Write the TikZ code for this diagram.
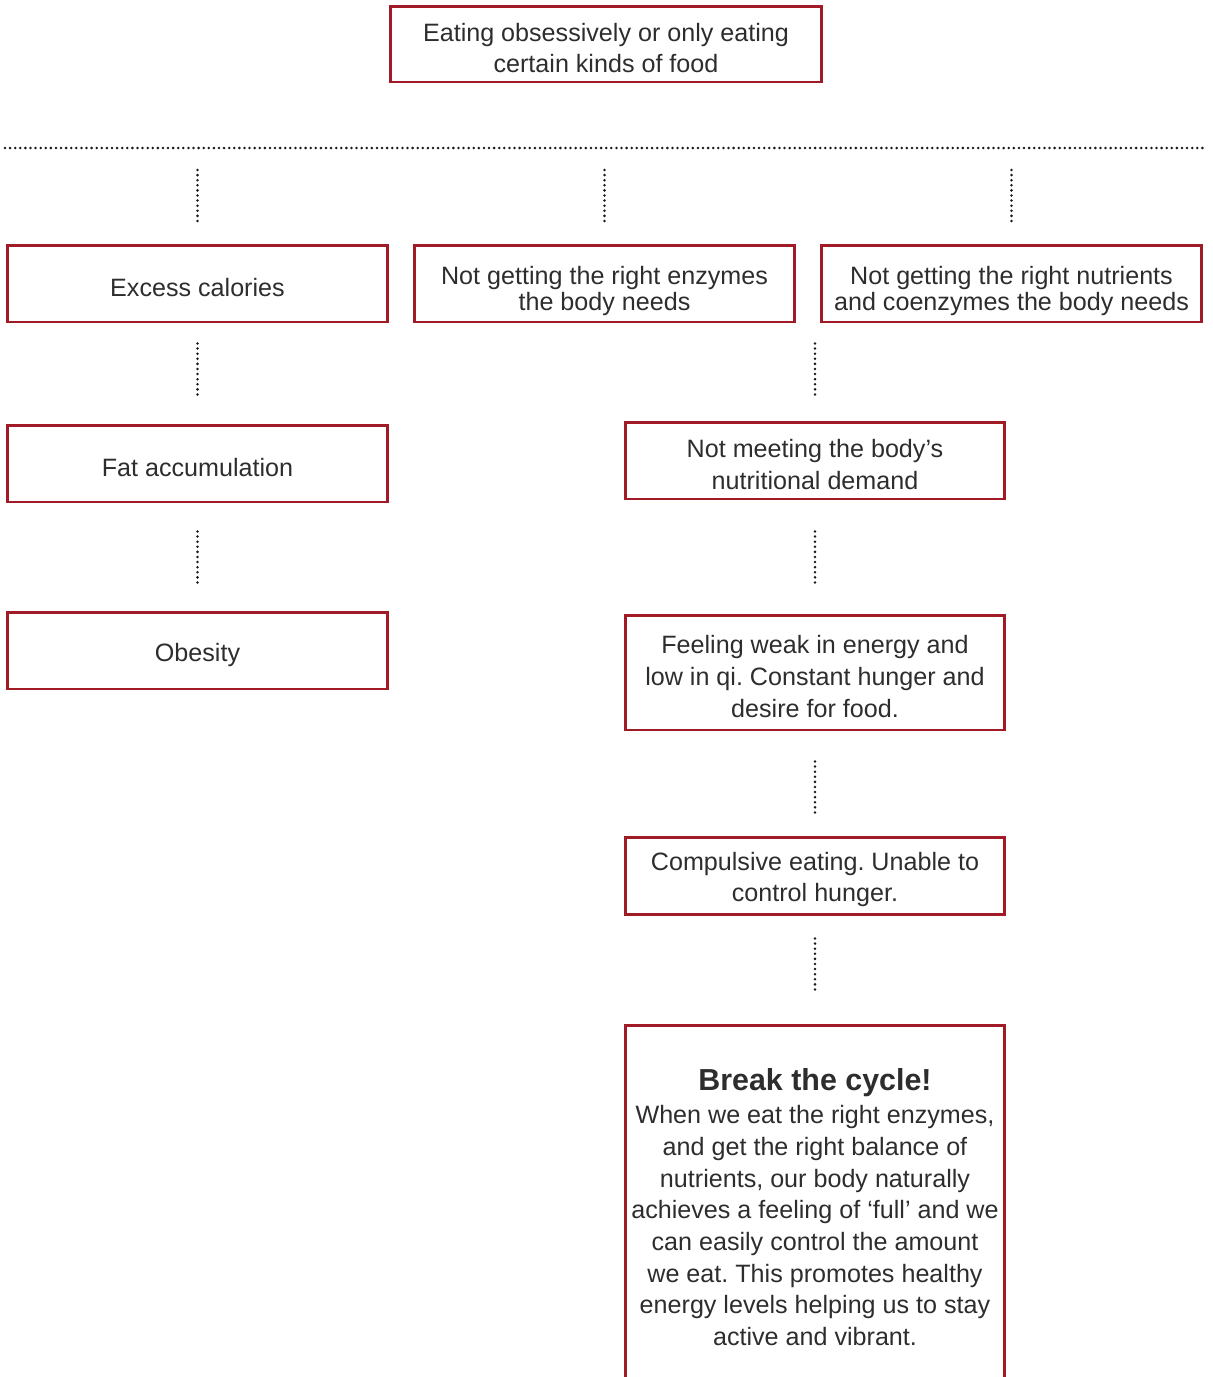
\documentclass[tikz,border=0pt]{standalone}
\usepackage{fontspec}
\setmainfont{Liberation Sans}
\frenchspacing
\definecolor{boxred}{RGB}{160,27,38}
\definecolor{txtgray}{RGB}{45,45,45}
\newcommand{\boxstrut}[1]{\rule{0pt}{#1}}

\begin{document}
\begin{tikzpicture}[x=0.02cm, y=-0.02cm,
        box/.style={draw=boxred, line width=1.7pt, text=txtgray, align=center, inner sep=0pt,
            minimum width=7.6cm, minimum height=1.54cm, font=\fontsize{14.3}{18}\selectfont},
        tight/.style={font=\fontsize{14.3}{14.7}\selectfont},
        link/.style={draw=black!90, line width=1.6pt, line cap=round, dash pattern=on 0pt off 2.9pt}]
            \useasboundingbox (0,0) rectangle (1213,1377);
            \clip (0,0) rectangle (1213,1377);

            \node[box, minimum width=8.64cm, minimum height=1.52cm] (eat) at (606,44) {\boxstrut{15pt}Eating obsessively or only eating\\certain kinds of food};
            \coordinate (busL) at (5,148);
            \coordinate (busR) at (1207,148);
            \draw[link] (busL) -- (busR);

            % three causes
            \node[box] (cal) at (197.5,283.5) {\boxstrut{15pt}Excess calories};
            \node[box, tight] (enz) at (604.5,283.5) {\boxstrut{18.5pt}Not getting the right enzymes\\the body needs};
            \node[box, tight] (nutr) at (1011.5,283.5) {\boxstrut{18.5pt}Not getting the right nutrients\\and coenzymes the body needs};
            \draw[link, shorten <=0.44cm, shorten >=0.38cm] (cal.north |- busL) -- (cal.north);
            \draw[link, shorten <=0.44cm, shorten >=0.38cm] (enz.north |- busL) -- (enz.north);
            \draw[link, shorten <=0.44cm, shorten >=0.38cm] (nutr.north |- busL) -- (nutr.north);

            % left column
            \node[box] (fat) at (197.5,463.5) {\boxstrut{15pt}Fat accumulation};
            \node[box] (obe) at (197.5,650.5) {\boxstrut{16pt}Obesity};
            \draw[link, shorten <=0.4cm, shorten >=0.54cm] (cal.south) -- (fat.north);
            \draw[link, shorten <=0.56cm, shorten >=0.54cm] (fat.south) -- (obe.north);

            % right column
            \node[box] (meet) at (815,460.5) {\boxstrut{15pt}Not meeting the body’s\\nutritional demand};
            \node[box, minimum height=2.3cm] (weak) at (815,672.5) {\boxstrut{15pt}Feeling weak in energy and\\low in qi. Constant hunger and\\desire for food.};
            \node[box] (comp) at (815,875.5) {\boxstrut{15pt}Compulsive eating. Unable to\\control hunger.};
            \node[box, minimum height=7.28cm] (brk) at (815,1207) {{\fontsize{17.3}{20}\selectfont\bfseries Break the cycle!}\\[1pt]
                When we eat the right enzymes,\\and get the right balance of\\nutrients, our body naturally\\achieves a feeling of ‘full’ and we\\can easily control the amount\\we eat. This promotes healthy\\energy levels helping us to stay\\active and vibrant.};
            \draw[link, shorten <=0.4cm, shorten >=0.48cm] (meet.north |- nutr.south) -- (meet.north);
            \draw[link, shorten <=0.62cm, shorten >=0.58cm] (meet.south) -- (weak.north);
            \draw[link, shorten <=0.6cm, shorten >=0.44cm] (weak.south) -- (comp.north);
            \draw[link, shorten <=0.46cm, shorten >=0.66cm] (comp.south) -- (brk.north);
        \end{tikzpicture}
\end{document}
